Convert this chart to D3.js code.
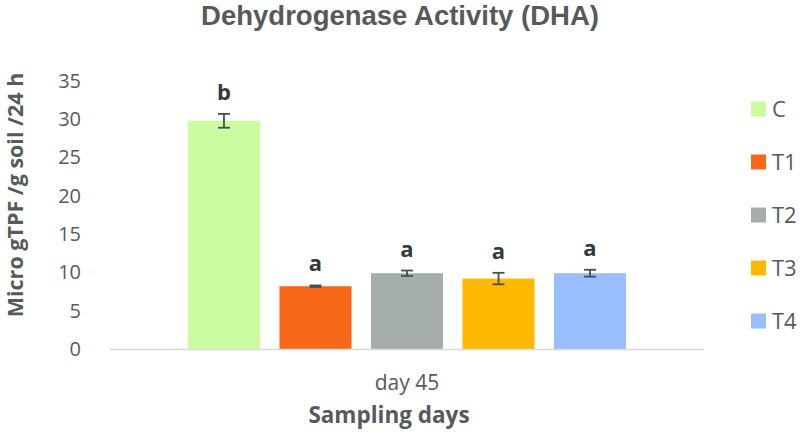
<!DOCTYPE html>
<html>
<head>
<meta charset="utf-8">
<script src="https://cdn.jsdelivr.net/npm/d3@7"></script>
<style>
  body { margin: 0; background: #fff; }
  svg { display: block; }
</style>
</head>
<body>
<svg width="800" height="436"></svg>
<script>
const categories = ["day 45"];
const series = ["C", "T1", "T2", "T3", "T4"];
const values = [29.8, 8.2, 9.9, 9.2, 9.9];
const errors = [0.9, 0.1, 0.35, 0.75, 0.45];
const letters = ["b", "a", "a", "a", "a"];
const colors = ["#ccfba0", "#f96718", "#a5aead", "#ffb900", "#99bdff"];
const yTicks = [0, 5, 10, 15, 20, 25, 30, 35];

const svg = d3.select("svg");
const textColor = "#555b5b";
const bodyFont = "'Open Sans', sans-serif";

const x0 = d3.scaleBand()
  .domain(categories)
  .range([110, 704])
  .paddingInner(0)
  .paddingOuter(0.178);

const x1 = d3.scaleBand()
  .domain(series)
  .range([0, x0.bandwidth()])
  .paddingInner(0.213)
  .paddingOuter(0);

const y = d3.scaleLinear()
  .domain([0, 35])
  .range([349, 81]);

const color = d3.scaleOrdinal().domain(series).range(colors);

// title
svg.append("text")
  .attr("x", 400)
  .attr("y", 25)
  .attr("text-anchor", "middle")
  .attr("font-family", "'Liberation Sans', Arial, sans-serif")
  .attr("font-weight", "bold")
  .attr("font-size", 27.5)
  .attr("fill", textColor)
  .text("Dehydrogenase Activity (DHA)");

// y axis (labels only)
const yAxis = svg.append("g")
  .attr("transform", "translate(81,0)")
  .call(d3.axisLeft(y).tickValues(yTicks).tickSize(0).tickPadding(0));
yAxis.select(".domain").remove();
yAxis.selectAll("text")
  .attr("font-family", bodyFont)
  .attr("font-size", 20)
  .attr("fill", textColor);

svg.append("text")
  .attr("transform", "translate(23,195) rotate(-90)")
  .attr("text-anchor", "middle")
  .attr("font-family", bodyFont)
  .attr("font-weight", "bold")
  .attr("font-size", 21.5)
  .attr("fill", textColor)
  .text("Micro gTPF /g soil /24 h");

const data = series.map((s, i) => ({
  cat: categories[0], s, v: values[i], e: errors[i], l: letters[i]
}));

const group = svg.append("g")
  .attr("transform", "translate(" + x0(categories[0]) + ",0)");

group.selectAll("rect")
  .data(data)
  .enter().append("rect")
  .attr("x", d => x1(d.s))
  .attr("y", d => y(d.v))
  .attr("width", x1.bandwidth())
  .attr("height", d => y(0) - y(d.v))
  .attr("fill", d => color(d.s));

// error bars
const eb = group.selectAll(".err")
  .data(data)
  .enter().append("g")
  .attr("class", "err")
  .attr("stroke", "#465050")
  .attr("stroke-width", 1.8);
const cx = d => x1(d.s) + x1.bandwidth() / 2;
eb.append("line")
  .attr("x1", cx).attr("x2", cx)
  .attr("y1", d => y(d.v + d.e)).attr("y2", d => y(d.v - d.e));
eb.append("line")
  .attr("x1", d => cx(d) - 6).attr("x2", d => cx(d) + 6)
  .attr("y1", d => y(d.v + d.e)).attr("y2", d => y(d.v + d.e));
eb.append("line")
  .attr("x1", d => cx(d) - 6).attr("x2", d => cx(d) + 6)
  .attr("y1", d => y(d.v - d.e)).attr("y2", d => y(d.v - d.e));

// significance letters
group.selectAll(".sig")
  .data(data)
  .enter().append("text")
  .attr("class", "sig")
  .attr("x", cx)
  .attr("y", d => y(d.v + d.e) - 14)
  .attr("text-anchor", "middle")
  .attr("font-family", bodyFont)
  .attr("font-weight", "bold")
  .attr("font-size", 22)
  .attr("fill", "#333a3a")
  .text(d => d.l);

// x axis line
svg.append("line")
  .attr("x1", x0.range()[0]).attr("x2", x0.range()[1])
  .attr("y1", y(0) + 0.5).attr("y2", y(0) + 0.5)
  .attr("stroke", "#d9d9d9")
  .attr("stroke-width", 1.5);

svg.selectAll(".cat")
  .data(categories)
  .enter().append("text")
  .attr("class", "cat")
  .attr("x", d => x0(d) + x0.bandwidth() / 2)
  .attr("y", 390)
  .attr("text-anchor", "middle")
  .attr("font-family", bodyFont)
  .attr("font-size", 21)
  .attr("fill", textColor)
  .text(d => d);

svg.append("text")
  .attr("x", 389)
  .attr("y", 423)
  .attr("text-anchor", "middle")
  .attr("font-family", bodyFont)
  .attr("font-weight", "bold")
  .attr("font-size", 22.5)
  .attr("fill", textColor)
  .text("Sampling days");

// legend
const legend = svg.append("g")
  .attr("transform", "translate(751,109)");
const li = legend.selectAll("g")
  .data(series)
  .enter().append("g")
  .attr("transform", (d, i) => "translate(0," + i * 53 + ")");
li.append("rect")
  .attr("x", 0).attr("y", -7.5)
  .attr("width", 15).attr("height", 15)
  .attr("fill", d => color(d));
li.append("text")
  .attr("x", 21)
  .attr("y", 8)
  .attr("font-family", bodyFont)
  .attr("font-size", 22)
  .attr("fill", textColor)
  .text(d => d);
</script>
</body>
</html>
